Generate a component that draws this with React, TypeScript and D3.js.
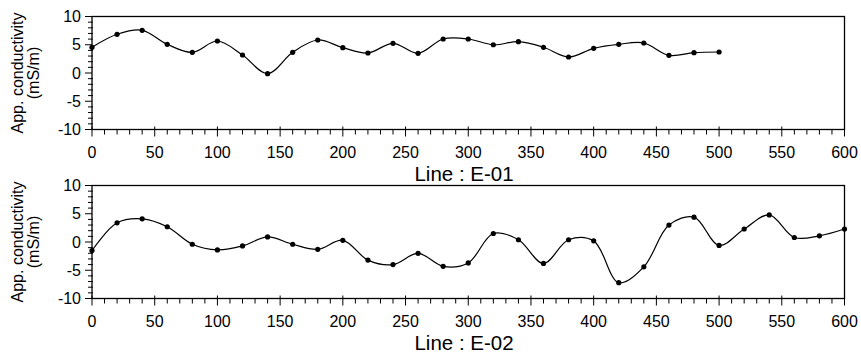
import React from "react";
import * as d3 from "d3";

const distances = d3.range(0, 601, 20);
const e01Values = [4.55, 6.85, 7.56, 5.08, 3.66, 5.66, 3.19, -0.12, 3.66, 5.84, 4.48, 3.54, 5.26, 3.49, 6.02, 6.02, 5.0, 5.54, 4.55, 2.83, 4.37, 5.08, 5.31, 3.13, 3.59, 3.72];
const e02Values = [-1.5, 3.4, 4.1, 2.7, -0.4, -1.4, -0.7, 0.9, -0.4, -1.3, 0.3, -3.2, -4.0, -2.0, -4.3, -3.7, 1.5, 0.4, -3.8, 0.4, 0.2, -7.2, -4.4, 3.0, 4.4, -0.6, 2.3, 4.8, 0.8, 1.1, 2.3];
const xTicks = [0, 50, 100, 150, 200, 250, 300, 350, 400, 450, 500, 550, 600];
const yTicks = [-10, -5, 0, 5, 10];
const panelTitles = ["Line : E-01", "Line : E-02"];
const yTitleLines = ["App. conductivity", "(mS/m)"];

const W = 861;
const H = 356;
const left = 92;
const right = 844.5;
const panelTops = [16.5, 185.5];
const panelH = 113;
const font = "Arial, 'Liberation Sans', Helvetica, sans-serif";

function Panel({ values, top, title }: { values: number[]; top: number; title: string }) {
  const x = d3.scaleLinear().domain([0, 600]).range([left, right]);
  const y = d3.scaleLinear().domain([-10, 10]).range([top + panelH, top]);
  const data = values.map((v, i) => [distances[i], v] as [number, number]);
  const line = d3
    .line<[number, number]>()
    .x((d) => x(d[0]))
    .y((d) => y(d[1]))
    .curve(d3.curveCatmullRom.alpha(0.5));
  const minorX = d3.range(0, 601, 10);
  const minorY = d3.range(-10, 11, 1);
  const bottom = top + panelH;
  return (
    <g>
      {minorX.map((t) => {
        const major = t % 50 === 0;
        return (
          <line
            key={"mx" + t}
            x1={x(t)}
            x2={x(t)}
            y1={bottom - (major ? 3 : 0)}
            y2={bottom + (major ? 7 : 5)}
            stroke="#000"
            strokeWidth={1}
          />
        );
      })}
      {minorY.map((t) => {
        const major = t % 5 === 0;
        return (
          <line
            key={"my" + t}
            x1={left - (major ? 7 : 4)}
            x2={left + (major ? 0 : 1)}
            y1={y(t)}
            y2={y(t)}
            stroke="#000"
            strokeWidth={1}
          />
        );
      })}
      <rect x={left} y={top} width={right - left} height={panelH} fill="none" stroke="#000" strokeWidth={1.3} />
      <path d={line(data) || ""} fill="none" stroke="#000" strokeWidth={1.2} />
      {data.map((d, i) => (
        <circle key={i} cx={x(d[0])} cy={y(d[1])} r={2.6} fill="#000" />
      ))}
      {xTicks.map((t) => (
        <text key={"xt" + t} x={x(t)} y={bottom + 28} textAnchor="middle" fontSize={16} fontFamily={font} fill="#000">
          {t}
        </text>
      ))}
      {yTicks.map((t) => (
        <text key={"yt" + t} x={81} y={y(t)} dy="0.35em" textAnchor="end" fontSize={16} fontFamily={font} fill="#000">
          {t}
        </text>
      ))}
      <text x={464} y={bottom + 51} textAnchor="middle" fontSize={20.5} fontFamily={font} fill="#000">
        {title}
      </text>
      {yTitleLines.map((s, i) => (
        <text
          key={s}
          transform={`translate(${23 + i * 16},${top + panelH / 2}) rotate(-90)`}
          textAnchor="middle"
          fontSize={16}
          fontFamily={font}
          fill="#000"
        >
          {s}
        </text>
      ))}
    </g>
  );
}

export default function App() {
  return (
    <svg width={W} height={H} style={{ position: "absolute", left: 0, top: 0, background: "#fff" }}>
      <rect width={W} height={H} fill="#fff" />
      <Panel values={e01Values} top={panelTops[0]} title={panelTitles[0]} />
      <Panel values={e02Values} top={panelTops[1]} title={panelTitles[1]} />
    </svg>
  );
}
